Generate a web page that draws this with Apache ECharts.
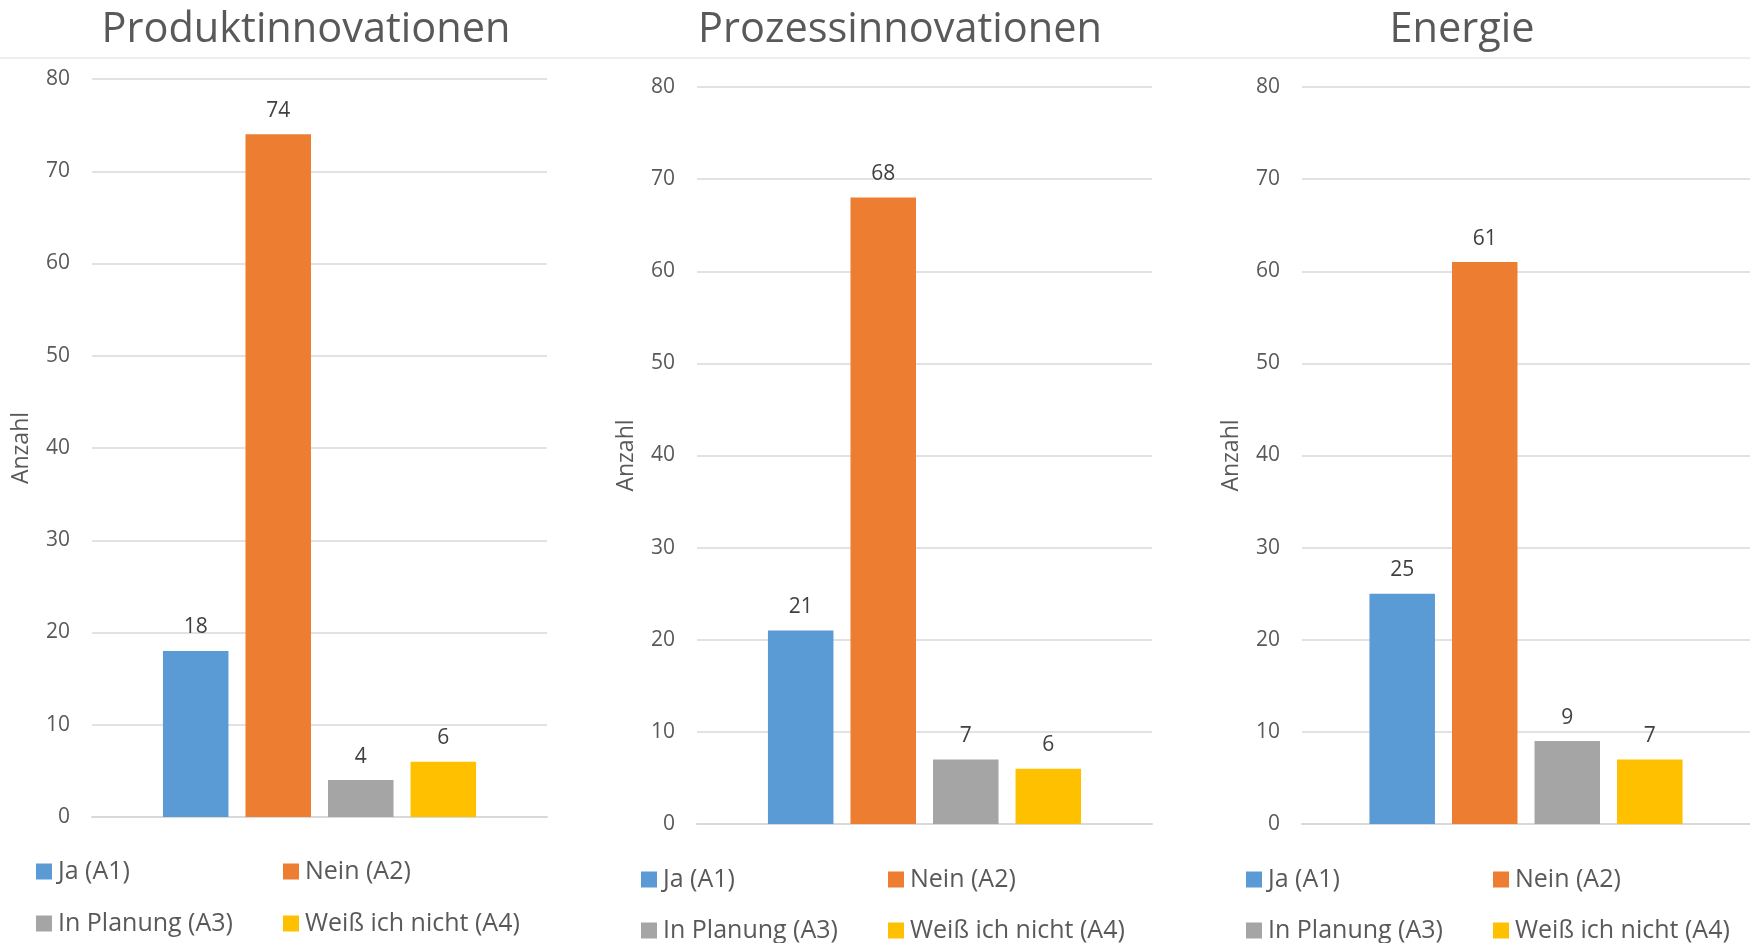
<!DOCTYPE html>
<html>
<head>
<meta charset="utf-8">
<script src="https://cdn.jsdelivr.net/npm/echarts@6/dist/echarts.min.js"></script>
<style>
html,body{margin:0;padding:0;background:#fff;}
#chart{width:1750px;height:943px;}
</style>
</head>
<body>
<div id="chart"></div>
<script>
const panelTitles = ['Produktinnovationen', 'Prozessinnovationen', 'Energie'];
const seriesNames = ['Ja (A1)', 'Nein (A2)', 'In Planung (A3)', 'Weiß ich nicht (A4)'];
const seriesColors = ['#5B9BD5', '#ED7D31', '#A5A5A5', '#FFC000'];
const valuesProdukt = [18, 74, 4, 6];
const valuesProzess = [21, 68, 7, 6];
const valuesEnergie = [25, 61, 9, 7];
const panelValues = [valuesProdukt, valuesProzess, valuesEnergie];
const yTicks = {min: 0, max: 80, interval: 10};
const yAxisName = 'Anzahl';

const FONT = '"Open Sans", sans-serif';
const TXT = '#595959';

// layout per panel
const grids = [
  {left: 92, top: 79, width: 455, height: 738},
  {left: 697, top: 87, width: 455, height: 737},
  {left: 1302, top: 87, width: 456, height: 737}
];
const titleCenters = [306, 900, 1462];
const legendRows = [[859, 911], [867, 918], [867, 918]];
const legendCols = [[36, 283], [641, 888], [1246, 1493]];

const option = {
  animation: false,
  backgroundColor: '#ffffff',
  textStyle: {fontFamily: FONT},
  title: panelTitles.map((t, i) => ({
    text: t,
    left: titleCenters[i],
    top: 9,
    textAlign: 'center',
    padding: 0,
    textStyle: {fontFamily: FONT, fontSize: 41.5, fontWeight: 'normal', color: TXT}
  })),
  graphic: [{
    type: 'line',
    shape: {x1: 0, y1: 58, x2: 1750, y2: 58},
    style: {stroke: '#EEEEEE', lineWidth: 2},
    silent: true
  }],
  legend: [],
  grid: grids.map(g => Object.assign({containLabel: false}, g)),
  xAxis: grids.map((g, i) => ({
    type: 'category',
    gridIndex: i,
    data: [''],
    axisLine: {show: true, lineStyle: {color: '#D9D9D9', width: 2}},
    axisTick: {show: false},
    axisLabel: {show: false},
    splitLine: {show: false}
  })),
  yAxis: grids.map((g, i) => ({
    type: 'value',
    gridIndex: i,
    min: yTicks.min,
    max: yTicks.max,
    interval: yTicks.interval,
    name: yAxisName,
    nameLocation: 'middle',
    nameRotate: 90,
    nameGap: 59,
    nameTextStyle: {fontFamily: FONT, fontSize: 23, color: TXT},
    axisLine: {show: false},
    axisTick: {show: false},
    axisLabel: {fontFamily: FONT, fontSize: 21, color: TXT, margin: 22},
    splitLine: {show: true, lineStyle: {color: '#D9D9D9', width: 1.5}}
  })),
  series: []
};

panelValues.forEach((vals, p) => {
  seriesNames.forEach((name, s) => {
    option.series.push({
      type: 'bar',
      name: name,
      xAxisIndex: p,
      yAxisIndex: p,
      data: [vals[s]],
      barWidth: 65.5,
      barGap: '26%',
      itemStyle: {color: seriesColors[s]},
      label: {
        show: true,
        position: 'top',
        distance: 13,
        fontFamily: FONT,
        fontSize: 21,
        color: '#404040'
      }
    });
  });
  seriesNames.forEach((name, s) => {
    const row = Math.floor(s / 2), col = s % 2;
    option.legend.push({
      data: [name],
      left: legendCols[p][col],
      top: legendRows[p][row],
      padding: 0,
      icon: 'rect',
      itemWidth: 16,
      itemHeight: 16,
      selectedMode: false,
      textStyle: {fontFamily: FONT, fontSize: 25, color: TXT, padding: [0, 0, 0, 1]}
    });
  });
});

const chart = echarts.init(document.getElementById('chart'));
chart.setOption(option);
</script>
</body>
</html>
